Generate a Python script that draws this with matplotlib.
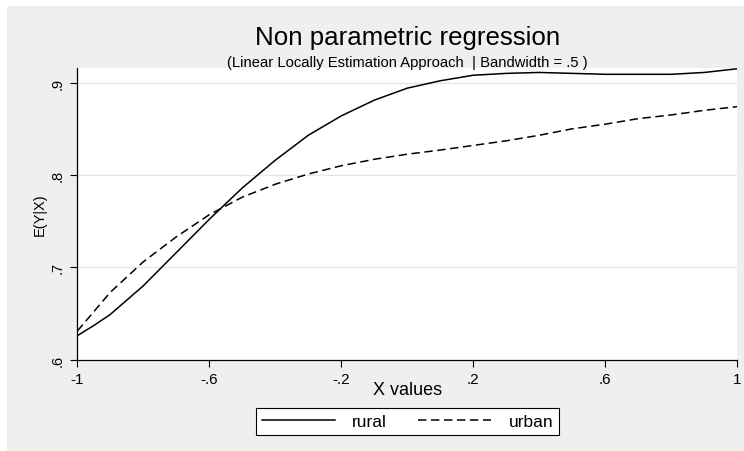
import matplotlib
matplotlib.use("Agg")
import matplotlib.pyplot as plt
from matplotlib.patches import Rectangle

plt.rcParams['font.family'] = ['Liberation Sans', 'DejaVu Sans']

# values
x_vals = [-1.0, -0.95, -0.9, -0.8, -0.7, -0.6, -0.5, -0.4, -0.3, -0.2, -0.1,
          0.0, 0.1, 0.2, 0.3, 0.4, 0.5, 0.6, 0.7, 0.8, 0.9, 1.0]
rural = [0.626, 0.637, 0.649, 0.680, 0.716, 0.752, 0.786, 0.816, 0.843, 0.864, 0.881,
         0.894, 0.902, 0.908, 0.910, 0.911, 0.910, 0.909, 0.909, 0.909, 0.911, 0.915]
urban = [0.631, 0.652, 0.673, 0.706, 0.733, 0.757, 0.776, 0.790, 0.801, 0.810, 0.817,
         0.8225, 0.827, 0.832, 0.837, 0.843, 0.850, 0.855, 0.861, 0.865, 0.870, 0.874]

xticks = [-1, -0.6, -0.2, 0.2, 0.6, 1]
xtick_labels = ['-1', '-.6', '-.2', '.2', '.6', '1']
yticks = [0.6, 0.7, 0.8, 0.9]
ytick_labels = ['.6', '.7', '.8', '.9']

W, H = 744, 452
fig = plt.figure(figsize=(W / 100, H / 100), dpi=100, facecolor='white')

# gray graph region (small white margin top/left like the export)
fig.patches.append(Rectangle((7 / W, 0), 1, (H - 7) / H, transform=fig.transFigure,
                             facecolor='#efefef', edgecolor='none', zorder=-10))

ax = fig.add_axes([77.3 / W, (H - 360.7) / H, 660 / W, 291.4 / H])
ax.set_facecolor('white')

ax.plot(x_vals, rural, color='black', lw=1.1, label='rural')
ax.plot(x_vals, urban, color='black', lw=1.1, dashes=(5.5, 3), label='urban')

ax.set_xlim(-1, 1)
ax.set_ylim(0.6, 0.9155)

ax.set_xticks(xticks)
ax.set_xticklabels(xtick_labels, fontsize=11)
ax.set_yticks(yticks)
ax.set_yticklabels(ytick_labels, fontsize=10.5, rotation=90, va='center')
ax.tick_params(axis='both', direction='out', length=5, width=0.8, color='black', pad=4)

for v in yticks[1:]:
    ax.axhline(v, color='#e6e6e6', lw=1.0, zorder=0)

for s in ['top', 'right']:
    ax.spines[s].set_visible(False)
for s in ['left', 'bottom']:
    ax.spines[s].set_linewidth(0.9)
    ax.spines[s].set_color('black')

cx = (77.3 + 737.3) / 2 / W
fig.text(cx, (H - 38) / H, 'Non parametric regression', ha='center', va='center', fontsize=18.6)
fig.text(cx, (H - 63) / H, '(Linear Locally Estimation Approach  | Bandwidth = .5 )',
         ha='center', va='center', fontsize=10.6)
fig.text(cx, (H - 391) / H, 'X values', ha='center', va='center', fontsize=13)
fig.text(40 / W, (H - 215) / H, 'E(Y|X)', ha='center', va='center', rotation=90, fontsize=10.5)

leg = fig.legend(loc='center', bbox_to_anchor=(407.5 / W, (H - 422.5) / H), ncol=2,
                 fontsize=12.5, frameon=True, fancybox=False, handlelength=4.2,
                 handletextpad=1.0, columnspacing=1.8, borderpad=0.35)
leg.get_frame().set_edgecolor('black')
leg.get_frame().set_linewidth(0.8)
leg.get_frame().set_facecolor('white')
leg.get_frame().set_alpha(1)

fig.savefig('out.png', dpi=100, facecolor=fig.get_facecolor())
